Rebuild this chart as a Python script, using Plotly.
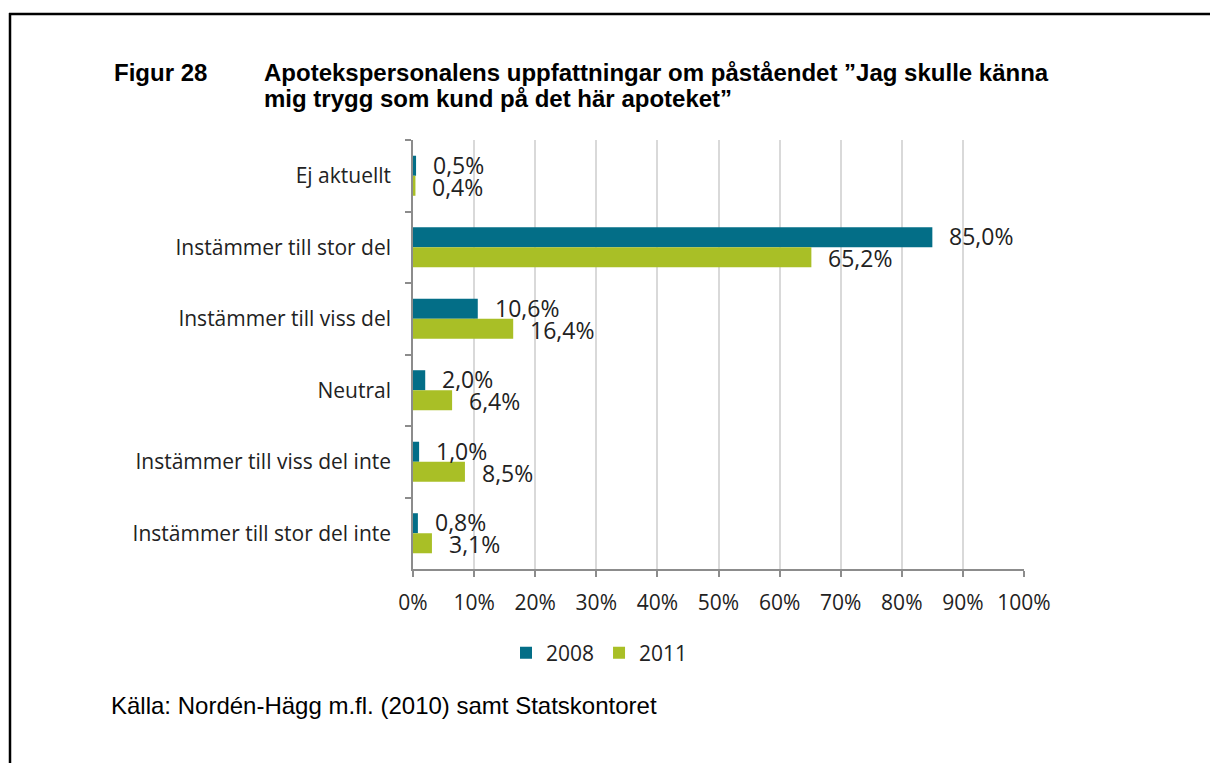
import plotly.graph_objects as go

categories = ["Ej aktuellt", "Instämmer till stor del", "Instämmer till viss del",
              "Neutral", "Instämmer till viss del inte", "Instämmer till stor del inte"]
values_2008 = [0.5, 85.0, 10.6, 2.0, 1.0, 0.8]
values_2011 = [0.4, 65.2, 16.4, 6.4, 8.5, 3.1]
x_ticks = [0, 10, 20, 30, 40, 50, 60, 70, 80, 90, 100]
x_ticklabels = [f"{t}%" for t in x_ticks]

TEAL = "#036E87"
GREEN = "#A9BF26"
FONT = "Open Sans, Lato, sans-serif"
SANS = "Liberation Sans, Arial, sans-serif"

W, H = 1210, 763
L, R, T, B = 413, 1024, 140, 569  # plot area in px

fig = go.Figure()
fig.add_trace(go.Bar(y=categories, x=values_2008, name="2008", orientation="h",
                     marker=dict(color=TEAL, line=dict(width=0))))
fig.add_trace(go.Bar(y=categories, x=values_2011, name="2011", orientation="h",
                     marker=dict(color=GREEN, line=dict(width=0))))

annotations = []
for vals, shift in ((values_2008, 11), (values_2011, -11)):
    for cat, v in zip(categories, vals):
        annotations.append(dict(x=v, y=cat, xref="x", yref="y", text=f"{v:.1f}%".replace(".", ","),
                                showarrow=False, xanchor="left", yanchor="middle",
                                xshift=15, yshift=shift,
                                font=dict(family=FONT, size=23, color="#222222")))

def px_x(p):
    return (p - L) / (R - L)

def px_y(p):
    return (B - p) / (B - T)

annotations += [
    dict(x=px_x(112), y=px_y(72), xref="paper", yref="paper", text="<b>Figur 28</b>",
         showarrow=False, xanchor="left", yanchor="middle",
         font=dict(family=SANS, size=24, color="#000000")),
    dict(x=px_x(262), y=px_y(72), xref="paper", yref="paper",
         text="<b>Apotekspersonalens uppfattningar om påståendet ”Jag skulle känna</b>",
         showarrow=False, xanchor="left", yanchor="middle", align="left",
         font=dict(family=SANS, size=24, color="#000000")),
    dict(x=px_x(262), y=px_y(98), xref="paper", yref="paper",
         text="<b>mig trygg som kund på det här apoteket”</b>",
         showarrow=False, xanchor="left", yanchor="middle", align="left",
         font=dict(family=SANS, size=24, color="#000000")),
    dict(x=px_x(109), y=px_y(705), xref="paper", yref="paper",
         text="Källa: Nordén-Hägg m.fl. (2010) samt Statskontoret",
         showarrow=False, xanchor="left", yanchor="middle",
         font=dict(family=SANS, size=24, color="#000000")),
]

shapes = [
    dict(type="line", xref="paper", yref="paper", x0=px_x(9), x1=px_x(1215),
         y0=px_y(14), y1=px_y(14), line=dict(color="#000000", width=2.5)),
    dict(type="line", xref="paper", yref="paper", x0=px_x(10), x1=px_x(10),
         y0=px_y(13), y1=px_y(780), line=dict(color="#000000", width=2.5)),
]

fig.update_layout(
    width=W, height=H,
    margin=dict(l=L, r=W - R, t=T, b=H - B),
    paper_bgcolor="white", plot_bgcolor="white",
    barmode="group", bargap=0.44, bargroupgap=0,
    showlegend=True,
    legend=dict(orientation="h", x=px_x(506), y=px_y(653), xanchor="left", yanchor="middle",
                font=dict(family=FONT, size=21, color="#222222"), itemwidth=30,
                traceorder="normal"),
    annotations=annotations, shapes=shapes,
    xaxis=dict(range=[0, 100], tickvals=x_ticks, ticktext=x_ticklabels,
               showgrid=True, gridcolor="#D9D9D9", gridwidth=1.5,
               showline=True, linecolor="#8C8C8C", linewidth=1.5,
               ticks="outside", ticklen=6, tickcolor="#8C8C8C", tickwidth=1.5,
               ticklabelstandoff=8,
               tickfont=dict(family=FONT, size=21, color="#222222"),
               zeroline=False, fixedrange=True),
    yaxis=dict(autorange="reversed", categoryorder="array", categoryarray=categories,
               showline=True, linecolor="#8C8C8C", linewidth=1.5,
               ticks="outside", ticklen=6, tickcolor="#8C8C8C", tickwidth=1.5,
               tickson="boundaries", ticklabelstandoff=16,
               tickfont=dict(family=FONT, size=21, color="#222222"),
               showgrid=False, fixedrange=True),
)

fig.write_html("out.html")
